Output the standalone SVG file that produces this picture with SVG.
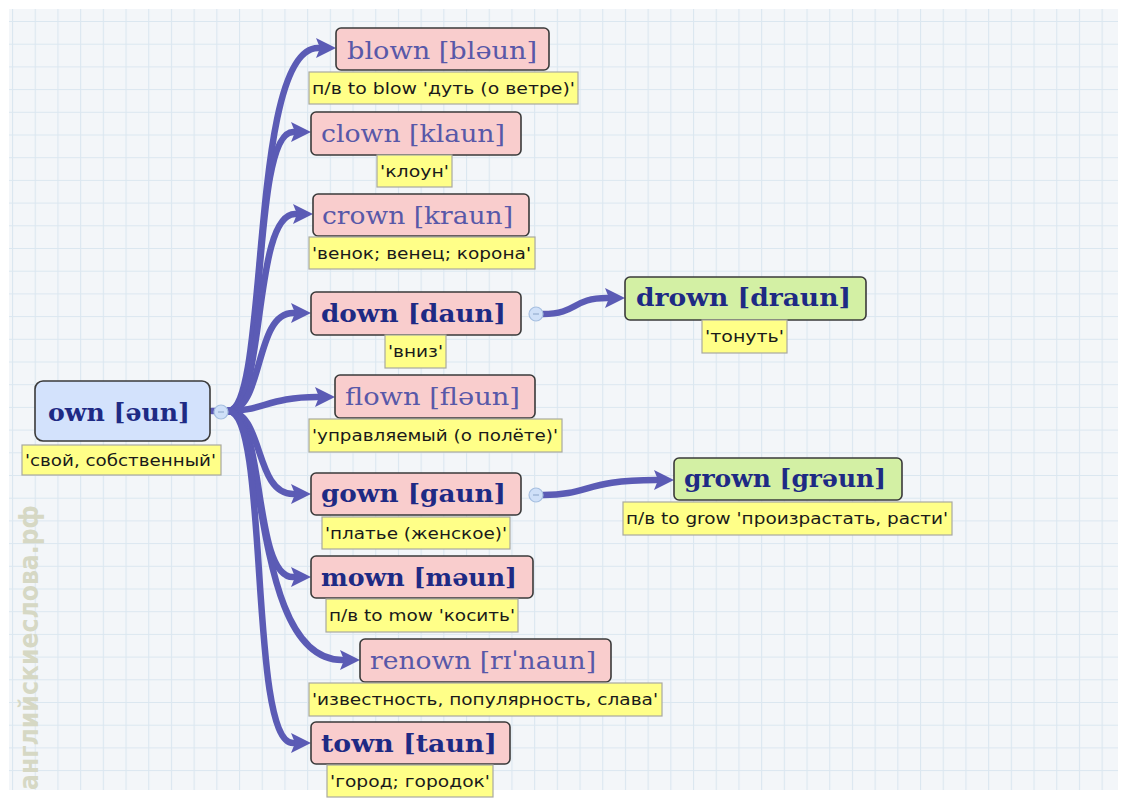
<svg xmlns="http://www.w3.org/2000/svg" width="1128" height="798" viewBox="0 0 1128 798">
<defs>
<pattern id="grid" patternUnits="userSpaceOnUse" x="12" y="21" width="22.7" height="22.7">
<rect width="22.7" height="22.7" fill="#f3f6f9"/>
<path d="M0 0.5H22.7M0.5 0V22.7" stroke="#dbe7f0" stroke-width="1.2" fill="none"/>
</pattern>
<marker id="arr" markerUnits="userSpaceOnUse" markerWidth="24" markerHeight="24" refX="2" refY="12" orient="auto" overflow="visible">
<path d="M0 2 L20 12 L0 22 L4 12 Z" fill="#5b5bb5"/>
</marker>
</defs>
<style>
.node{stroke:#3a3a3a;stroke-width:1.6}
.pink{fill:#f9cdcd}
.blue{fill:#d3e2fc}
.green{fill:#d3f0a4}
.lab{fill:#ffff88;stroke:#a9a9a0;stroke-width:1.2}
.t{font-family:"DejaVu Serif","Liberation Serif",serif;font-size:25px}
.b{font-weight:bold;fill:#1e2a84}
.r{fill:#5858a8}
.lt{font-family:"DejaVu Sans","Liberation Sans",sans-serif;font-size:15px;fill:#1a1a1a}
.con{fill:none;stroke:#5b5bb5;stroke-width:6.5;stroke-linecap:round}
.dot{fill:#cfe0f8;stroke:#a6bfe0;stroke-width:1.2}
</style>
<rect width="1128" height="798" fill="#ffffff"/>
<rect x="9" y="9" width="1109" height="781" fill="url(#grid)"/>
<text transform="translate(38,790) rotate(-90)" font-family="DejaVu Sans, Liberation Sans, sans-serif" font-weight="bold" font-size="27" fill="#d6d8c4" textLength="285" lengthAdjust="spacingAndGlyphs">английскиеслова.рф</text>

<g id="connectors">
<path class="con" d="M212 411 L228 411" stroke-width="3"/>
<path class="con" marker-end="url(#arr)" d="M228 411 C270 411 248 48 318 48"/>
<path class="con" marker-end="url(#arr)" d="M228 411 C268 411 250 132 293 132"/>
<path class="con" marker-end="url(#arr)" d="M228 411 C266 411 252 214 295 214"/>
<path class="con" marker-end="url(#arr)" d="M228 411 C264 411 254 313 293 313"/>
<path class="con" marker-end="url(#arr)" d="M228 411 C262 411 270 397 317 397"/>
<path class="con" marker-end="url(#arr)" d="M228 411 C264 411 254 494 293 494"/>
<path class="con" marker-end="url(#arr)" d="M228 411 C266 411 252 577 293 577"/>
<path class="con" marker-end="url(#arr)" d="M228 411 C268 411 250 660 342 660"/>
<path class="con" marker-end="url(#arr)" d="M228 411 C270 411 248 743 293 743"/>
<path class="con" marker-end="url(#arr)" d="M543 314 C578 314 572 298 607 298"/>
<path class="con" marker-end="url(#arr)" d="M543 495 C590 495 585 480 656 480"/>
</g>

<g id="n-own">
<rect class="node blue" x="35" y="381" width="175" height="60" rx="8"/>
<text class="t b" x="48" y="421" font-size="27" textLength="142" lengthAdjust="spacingAndGlyphs">own [əun]</text>
<rect class="lab" x="22" y="445" width="199" height="30"/>
<text class="lt" x="25" y="466" textLength="191" lengthAdjust="spacingAndGlyphs">'свой, собственный'</text>
<circle class="dot" cx="221" cy="412" r="7"/>
<path d="M218 412H224" stroke="#8aa4c8" stroke-width="1"/>
</g>

<g id="n-blown">
<rect class="node pink" x="336" y="28" width="213" height="42" rx="5"/>
<text class="t r" x="347" y="59" textLength="190" lengthAdjust="spacingAndGlyphs">blown [bləun]</text>
<rect class="lab" x="309" y="72" width="269" height="32"/>
<text class="lt" x="312" y="94" textLength="263" lengthAdjust="spacingAndGlyphs">п/в to blow 'дуть (о ветре)'</text>
</g>

<g id="n-clown">
<rect class="node pink" x="311" y="112" width="210" height="43" rx="5"/>
<text class="t r" x="321" y="142" textLength="184" lengthAdjust="spacingAndGlyphs">clown [klaun]</text>
<rect class="lab" x="377" y="155" width="75" height="32"/>
<text class="lt" x="380" y="177" textLength="69" lengthAdjust="spacingAndGlyphs">'клоун'</text>
</g>

<g id="n-crown">
<rect class="node pink" x="313" y="194" width="216" height="42" rx="5"/>
<text class="t r" x="322" y="224" textLength="191" lengthAdjust="spacingAndGlyphs">crown [kraun]</text>
<rect class="lab" x="309" y="237" width="226" height="32"/>
<text class="lt" x="312" y="259" textLength="219" lengthAdjust="spacingAndGlyphs">'венок; венец; корона'</text>
</g>

<g id="n-down">
<rect class="node pink" x="311" y="292" width="210" height="43" rx="5"/>
<text class="t b" x="321" y="322" textLength="185" lengthAdjust="spacingAndGlyphs">down [daun]</text>
<rect class="lab" x="385" y="335" width="61" height="33"/>
<text class="lt" x="388" y="357" textLength="55" lengthAdjust="spacingAndGlyphs">'вниз'</text>
<circle class="dot" cx="536" cy="314" r="7"/>
<path d="M533 314H539" stroke="#8aa4c8" stroke-width="1"/>
</g>

<g id="n-drown">
<rect class="node green" x="625" y="277" width="241" height="43" rx="5"/>
<text class="t b" x="636" y="306" textLength="215" lengthAdjust="spacingAndGlyphs">drown [draun]</text>
<rect class="lab" x="702" y="320" width="85" height="33"/>
<text class="lt" x="705" y="342" textLength="79" lengthAdjust="spacingAndGlyphs">'тонуть'</text>
</g>

<g id="n-flown">
<rect class="node pink" x="335" y="375" width="200" height="43" rx="5"/>
<text class="t r" x="345" y="405" textLength="175" lengthAdjust="spacingAndGlyphs">flown [fləun]</text>
<rect class="lab" x="309" y="419" width="253" height="33"/>
<text class="lt" x="312" y="441" textLength="246" lengthAdjust="spacingAndGlyphs">'управляемый (о полёте)'</text>
</g>

<g id="n-gown">
<rect class="node pink" x="311" y="473" width="210" height="42" rx="5"/>
<text class="t b" x="321" y="502" textLength="185" lengthAdjust="spacingAndGlyphs">gown [gaun]</text>
<rect class="lab" x="322" y="517" width="188" height="32"/>
<text class="lt" x="325" y="539" textLength="182" lengthAdjust="spacingAndGlyphs">'платье (женское)'</text>
<circle class="dot" cx="536" cy="495" r="7"/>
<path d="M533 495H539" stroke="#8aa4c8" stroke-width="1"/>
</g>

<g id="n-grown">
<rect class="node green" x="674" y="458" width="228" height="42" rx="5"/>
<text class="t b" x="684" y="487" textLength="202" lengthAdjust="spacingAndGlyphs">grown [grəun]</text>
<rect class="lab" x="623" y="502" width="329" height="33"/>
<text class="lt" x="626" y="524" textLength="322" lengthAdjust="spacingAndGlyphs">п/в to grow 'произрастать, расти'</text>
</g>

<g id="n-mown">
<rect class="node pink" x="311" y="556" width="222" height="42" rx="5"/>
<text class="t b" x="321" y="586" textLength="196" lengthAdjust="spacingAndGlyphs">mown [məun]</text>
<rect class="lab" x="326" y="599" width="192" height="33"/>
<text class="lt" x="329" y="621" textLength="186" lengthAdjust="spacingAndGlyphs">п/в to mow 'косить'</text>
</g>

<g id="n-renown">
<rect class="node pink" x="360" y="639" width="251" height="43" rx="5"/>
<text class="t r" x="370" y="669" textLength="226" lengthAdjust="spacingAndGlyphs">renown [rɪˈnaun]</text>
<rect class="lab" x="309" y="683" width="353" height="33"/>
<text class="lt" x="312" y="705" textLength="346" lengthAdjust="spacingAndGlyphs">'известность, популярность, слава'</text>
</g>

<g id="n-town">
<rect class="node pink" x="311" y="722" width="199" height="42" rx="5"/>
<text class="t b" x="321" y="752" textLength="176" lengthAdjust="spacingAndGlyphs">town [taun]</text>
<rect class="lab" x="327" y="765" width="166" height="32"/>
<text class="lt" x="330" y="787" textLength="160" lengthAdjust="spacingAndGlyphs">'город; городок'</text>
</g>
</svg>
